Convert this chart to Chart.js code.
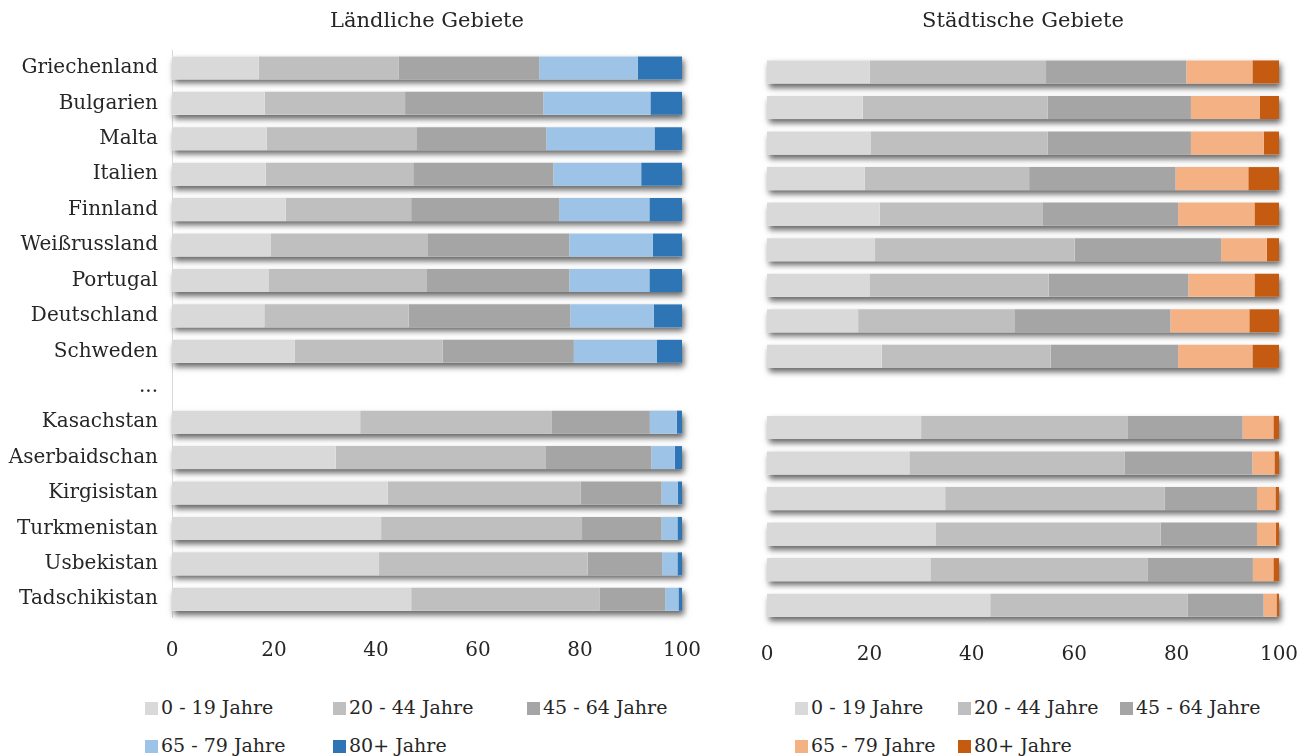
<!DOCTYPE html>
<html lang="de">
<head>
<meta charset="utf-8">
<title>Altersstruktur – ländliche und städtische Gebiete</title>
<script src="https://cdn.jsdelivr.net/npm/chart.js@4.4.1/dist/chart.umd.min.js"></script>
<style>
  html, body { margin: 0; padding: 0; background: #fff; }
  body { width: 1309px; height: 756px; position: relative; overflow: hidden;
         font-family: "DejaVu Serif", serif; color: #262626; }
  canvas { position: absolute; top: 0; display: block; }
  .legend-item { position: absolute; white-space: nowrap; font-size: 19px; line-height: 24px;
                 display: flex; align-items: center; }
  .legend-item .sw { width: 13px; height: 13px; margin-right: 3px; margin-top: 2px; }
</style>
</head>
<body>
<canvas id="rural" width="700" height="663" style="left:0;width:700px;height:663px;"></canvas>
<canvas id="urban" width="609" height="667" style="left:700px;width:609px;height:667px;"></canvas>
<div id="legendRural"></div>
<div id="legendUrban"></div>
<script>
// Countries (the "..." row separates the two groups)
const countries = ['Griechenland', 'Bulgarien', 'Malta', 'Italien', 'Finnland', 'Weißrussland',
  'Portugal', 'Deutschland', 'Schweden', '...', 'Kasachstan', 'Aserbaidschan', 'Kirgisistan',
  'Turkmenistan', 'Usbekistan', 'Tadschikistan'];

const ageGroups = ['0 - 19 Jahre', '20 - 44 Jahre', '45 - 64 Jahre', '65 - 79 Jahre', '80+ Jahre'];

const xTicks = [0, 20, 40, 60, 80, 100];

// Rural population shares (%) by age group
const rural0to19  = [17.0, 18.2, 18.6, 18.4, 22.3, 19.3, 18.9, 18.1, 24.1, null, 36.9, 32.1, 42.3, 41.0, 40.6, 46.9];
const rural20to44 = [27.4, 27.5, 29.3, 28.9, 24.6, 30.9, 31.1, 28.3, 29.0, null, 37.6, 41.1, 37.8, 39.4, 40.9, 36.9];
const rural45to64 = [27.6, 27.1, 25.5, 27.5, 29.0, 27.7, 27.9, 31.7, 25.7, null, 19.2, 20.8, 15.9, 15.6, 14.6, 12.9];
const rural65to79 = [19.3, 21.0, 21.2, 17.2, 17.7, 16.4, 15.7, 16.4, 16.3, null, 5.3, 4.6, 3.2, 3.1, 3.0, 2.6];
const rural80plus = [8.7, 6.2, 5.4, 8.0, 6.4, 5.7, 6.4, 5.5, 4.9, null, 1.0, 1.4, 0.8, 0.9, 0.9, 0.7];

// Urban population shares (%) by age group
const urban0to19  = [20.1, 18.7, 20.2, 19.1, 22.0, 21.1, 20.0, 17.8, 22.4, null, 30.1, 27.8, 34.8, 32.9, 31.9, 43.6];
const urban20to44 = [34.4, 36.1, 34.6, 32.1, 31.9, 39.0, 35.0, 30.5, 33.0, null, 40.4, 42.0, 42.9, 44.0, 42.5, 38.6];
const urban45to64 = [27.4, 28.0, 28.0, 28.6, 26.4, 28.6, 27.3, 30.5, 24.9, null, 22.4, 25.0, 18.0, 18.8, 20.5, 14.8];
const urban65to79 = [12.9, 13.4, 14.2, 14.2, 14.9, 8.9, 12.9, 15.4, 14.5, null, 6.0, 4.3, 3.6, 3.7, 4.0, 2.5];
const urban80plus = [5.2, 3.8, 3.0, 6.0, 4.8, 2.4, 4.8, 5.8, 5.2, null, 1.1, 0.9, 0.7, 0.6, 1.1, 0.5];

const greys = ['#D9D9D9', '#BFBFBF', '#A5A5A5'];
const ruralColors = [...greys, '#9DC3E6', '#2E75B6'];
const urbanColors = [...greys, '#F4B183', '#C55A11'];

const FONT = '"DejaVu Serif", serif';
const TEXT = '#262626';

// Soft drop shadow behind each whole stacked bar, drawn before the segments
const barShadow = {
  id: 'barShadow',
  beforeDatasetsDraw(chart) {
    const ctx = chart.ctx;
    const metas = chart.getSortedVisibleDatasetMetas();
    ctx.save();
    ctx.shadowColor = 'rgba(0,0,0,0.6)';
    ctx.shadowBlur = 6;
    ctx.shadowOffsetX = 2;
    ctx.shadowOffsetY = 4;
    ctx.fillStyle = '#ffffff';
    chart.data.labels.forEach((_, i) => {
      let x0 = Infinity, x1 = -Infinity, y = 0, h = 0;
      metas.forEach(m => {
        if (chart.data.datasets[m.index].data[i] == null) return;
        const p = m.data[i].getProps(['x', 'y', 'base', 'height'], true);
        x0 = Math.min(x0, p.base, p.x);
        x1 = Math.max(x1, p.base, p.x);
        y = p.y; h = p.height;
      });
      if (x1 > x0) ctx.fillRect(x0, y - h / 2, x1 - x0, h);
    });
    ctx.restore();
  }
};

function buildDatasets(series, colors) {
  return series.map((data, k) => ({
    label: ageGroups[k],
    data,
    backgroundColor: colors[k],
    borderWidth: 0,
    barPercentage: 0.65,
    categoryPercentage: 1,
    clip: false
  }));
}

function makeChart(id, title, series, colors, opts) {
  return new Chart(document.getElementById(id), {
    type: 'bar',
    data: { labels: countries, datasets: buildDatasets(series, colors) },
    plugins: [barShadow],
    options: {
      indexAxis: 'y',
      responsive: false,
      devicePixelRatio: 1,
      animation: false,
      layout: { padding: opts.padding },
      plugins: {
        legend: { display: false },
        tooltip: { enabled: false },
        title: {
          display: true,
          text: title,
          fullSize: false,
          color: TEXT,
          font: { family: FONT, size: 21, weight: 'normal' },
          padding: opts.titlePadding
        }
      },
      scales: {
        x: {
          stacked: true,
          min: 0,
          max: 100,
          afterBuildTicks: s => { s.ticks = xTicks.map(v => ({ value: v })); },
          // axis band = label gap + one text line; edge room comes from layout padding
          afterFit: s => { s.height = opts.tickPad + 24; s.paddingLeft = 0; s.paddingRight = 0; },
          grid: { display: false, drawTicks: false },
          border: { display: false },
          ticks: { color: TEXT, padding: opts.tickPad, font: { family: FONT, size: 20 } }
        },
        y: {
          stacked: true,
          display: opts.showY,
          afterFit: s => { if (opts.yWidth) s.width = opts.yWidth; },
          grid: { display: false, drawTicks: false },
          border: { display: true, color: '#D9D9D9', width: 1 },
          ticks: { color: TEXT, padding: 14, font: { family: FONT, size: 20 } }
        }
      }
    }
  });
}

makeChart('rural', 'Ländliche Gebiete',
  [rural0to19, rural20to44, rural45to64, rural65to79, rural80plus], ruralColors,
  { padding: { left: 0, right: 18, top: 0, bottom: 0 }, titlePadding: { top: 9, bottom: 16 },
    tickPad: 22, showY: true, yWidth: 172 });

makeChart('urban', 'Städtische Gebiete',
  [urban0to19, urban20to44, urban45to64, urban65to79, urban80plus], urbanColors,
  { padding: { left: 67, right: 30, top: 0, bottom: 0 }, titlePadding: { top: 9, bottom: 20 },
    tickPad: 20, showY: false, yWidth: 0 });

// Legends laid out in fixed columns under each panel
function buildLegend(containerId, colors, columns, rows) {
  const box = document.getElementById(containerId);
  ageGroups.forEach((name, k) => {
    const item = document.createElement('div');
    item.className = 'legend-item';
    item.style.left = columns[k % columns.length] + 'px';
    item.style.top = rows[Math.floor(k / columns.length)] + 'px';
    const sw = document.createElement('span');
    sw.className = 'sw';
    sw.style.background = colors[k];
    const txt = document.createElement('span');
    txt.textContent = name;
    item.appendChild(sw);
    item.appendChild(txt);
    box.appendChild(item);
  });
}
buildLegend('legendRural', ruralColors, [145, 333, 527], [695, 733]);
buildLegend('legendUrban', urbanColors, [795, 958, 1120], [695, 733]);
</script>
</body>
</html>
